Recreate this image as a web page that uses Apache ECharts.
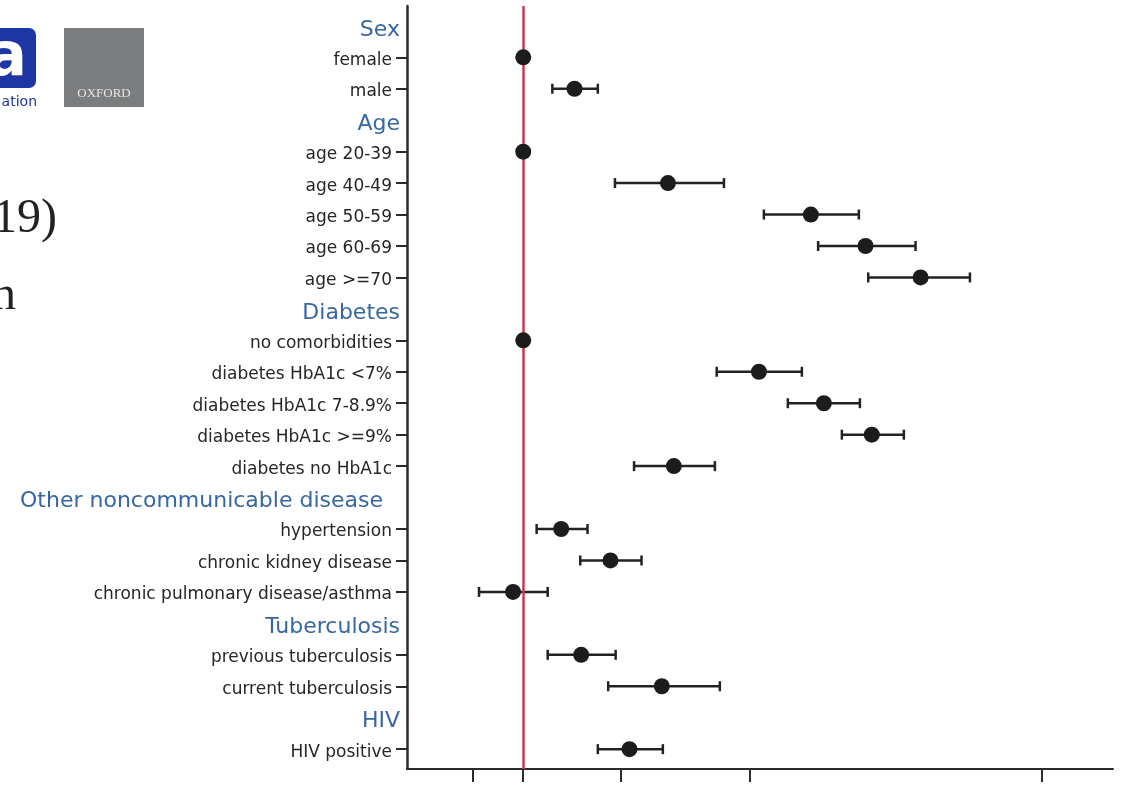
<!DOCTYPE html>
<html>
<head>
<meta charset="utf-8">
<script src="https://cdn.jsdelivr.net/npm/echarts@6/dist/echarts.min.js"></script>
<style>html,body{margin:0;padding:0;background:#fff}#c{width:1127px;height:793px}</style>
</head>
<body>
<div id="c"></div>
<script>
// ---- data (hazard ratios) ----
const rowLabels = ['Sex','female','male','Age','age 20-39','age 40-49','age 50-59','age 60-69','age >=70',
  'Diabetes','no comorbidities','diabetes HbA1c <7%','diabetes HbA1c 7-8.9%','diabetes HbA1c >=9%','diabetes no HbA1c',
  'Other noncommunicable disease','hypertension','chronic kidney disease','chronic pulmonary disease/asthma',
  'Tuberculosis','previous tuberculosis','current tuberculosis','HIV','HIV positive'];
const isHeader = [1,0,0,1,0,0,0,0,0,1,0,0,0,0,0,1,0,0,0,1,0,0,1,0];
const hazardRatio = [null,1,1.44,null,1,2.80,7.74,11.42,16.90,null,1,5.35,8.49,11.94,2.92,null,1.31,1.86,0.93,null,1.51,2.68,null,2.13];
const ciLower = [null,null,1.23,null,null,1.92,5.54,8.15,11.64,null,null,3.96,6.57,9.65,2.20,null,1.10,1.50,0.73,null,1.19,1.83,null,1.70];
const ciUpper = [null,null,1.70,null,null,4.17,10.89,16.30,24.0,null,null,7.26,10.97,15.0,3.91,null,1.58,2.32,1.19,null,1.93,4.05,null,2.70];
const xTicks = [0.7, 1, 2, 5, 40];
const referenceValue = 1;

// ---- build series data (x axis is on natural-log scale) ----
const pointData = [];
const ciData = [];
hazardRatio.forEach((v, i) => {
  if (v != null) pointData.push([Math.log(v), i]);
  if (ciLower[i] != null) ciData.push([Math.log(ciLower[i]), i, Math.log(ciUpper[i])]);
});
const itemRows = [];
isHeader.forEach((h, i) => { if (!h) itemRows.push(i); });
const allRows = rowLabels.map((_, i) => i);

const chart = echarts.init(document.getElementById('c'), null, {renderer: 'canvas'});
const font = '"DejaVu Sans", "Liberation Sans", Arial, sans-serif';
chart.setOption({
  animation: false,
  backgroundColor: '#ffffff',
  grid: {left: 407, right: 14, top: 6, bottom: 24, containLabel: false, outerBoundsMode: 'none'},
  xAxis: {
    type: 'value',
    position: 'bottom',
    min: -0.827, max: 4.196,
    axisLine: {show: true, onZero: false, lineStyle: {color: '#2b2b2b', width: 2}},
    axisTick: {show: true, length: 13, customValues: xTicks.map(Math.log), lineStyle: {color: '#2b2b2b', width: 2}},
    axisLabel: {show: false},
    splitLine: {show: false}
  },
  yAxis: {
    type: 'value',
    position: 'left',
    inverse: true,
    min: -0.631, max: 23.631,
    axisLine: {show: true, onZero: false, lineStyle: {color: '#2b2b2b', width: 2.5}},
    axisTick: {show: true, length: 11, customValues: itemRows, lineStyle: {color: '#2b2b2b', width: 2}},
    splitLine: {show: false},
    axisLabel: {
      show: true,
      margin: 7,
      customValues: allRows,
      formatter: function (v) {
        const i = Math.round(v);
        const t = rowLabels[i];
        if (isHeader[i]) return (t.length > 20 ? '{hw|' : '{h|') + t + '}';
        return '{i|' + t + '}';
      },
      rich: {
        h: {fontFamily: font, fontSize: 22, color: '#3767a3', padding: [8, 0, 0, 0]},
        hw: {fontFamily: font, fontSize: 22, color: '#3767a3', padding: [8, 17, 0, 0]},
        i: {fontFamily: font, fontSize: 17, color: '#262626', padding: [6, 8, 0, 0]}
      }
    }
  },
  series: [
    {
      type: 'line',
      data: [],
      z: 1,
      silent: true,
      markLine: {
        silent: true,
        symbol: ['none', 'none'],
        label: {show: false},
        lineStyle: {color: '#c93a4f', width: 2.5, type: 'solid'},
        data: [{xAxis: Math.log(referenceValue)}]
      }
    },
    {
      type: 'custom',
      z: 3,
      data: ciData,
      renderItem: function (params, api) {
        const y = api.value(1);
        const p1 = api.coord([api.value(0), y]);
        const p2 = api.coord([api.value(2), y]);
        const h = 5;
        const st = {stroke: '#222', lineWidth: 2.5};
        return {
          type: 'group',
          children: [
            {type: 'line', shape: {x1: p1[0], y1: p1[1], x2: p2[0], y2: p2[1]}, style: st},
            {type: 'line', shape: {x1: p1[0], y1: p1[1] - h, x2: p1[0], y2: p1[1] + h}, style: st},
            {type: 'line', shape: {x1: p2[0], y1: p2[1] - h, x2: p2[0], y2: p2[1] + h}, style: st}
          ]
        };
      }
    },
    {
      type: 'scatter',
      z: 5,
      data: pointData,
      symbol: 'circle',
      symbolSize: 16,
      itemStyle: {color: '#1c1c1c', opacity: 1}
    }
  ],
  graphic: [
    {type: 'rect', shape: {x: -20, y: 28, width: 56, height: 60, r: 7}, style: {fill: '#1e36a3'}},
    {type: 'text', x: 27, y: 89, style: {text: 'a', font: 'bold 60px "DejaVu Sans", sans-serif', fill: '#ffffff', align: 'right', verticalAlign: 'bottom'}},
    {type: 'text', x: 37, y: 102, style: {text: 'ation', font: '14px "DejaVu Sans", sans-serif', fill: '#1e36a3', align: 'right', verticalAlign: 'middle'}},
    {type: 'rect', shape: {x: 64, y: 28, width: 80, height: 79}, style: {fill: '#7b7c7e'}},
    {type: 'text', x: 104, y: 94, style: {text: 'OXFORD', font: '13px "Liberation Serif", serif', fill: '#e6e6e6', align: 'center', verticalAlign: 'middle'}},
    {type: 'text', x: 57, y: 219, style: {text: '19)', font: '48px "Liberation Serif", serif', fill: '#222', align: 'right', verticalAlign: 'middle'}},
    {type: 'text', x: 16, y: 296, style: {text: 'n', font: '48px "Liberation Serif", serif', fill: '#222', align: 'right', verticalAlign: 'middle'}}
  ]
});
</script>
</body>
</html>
